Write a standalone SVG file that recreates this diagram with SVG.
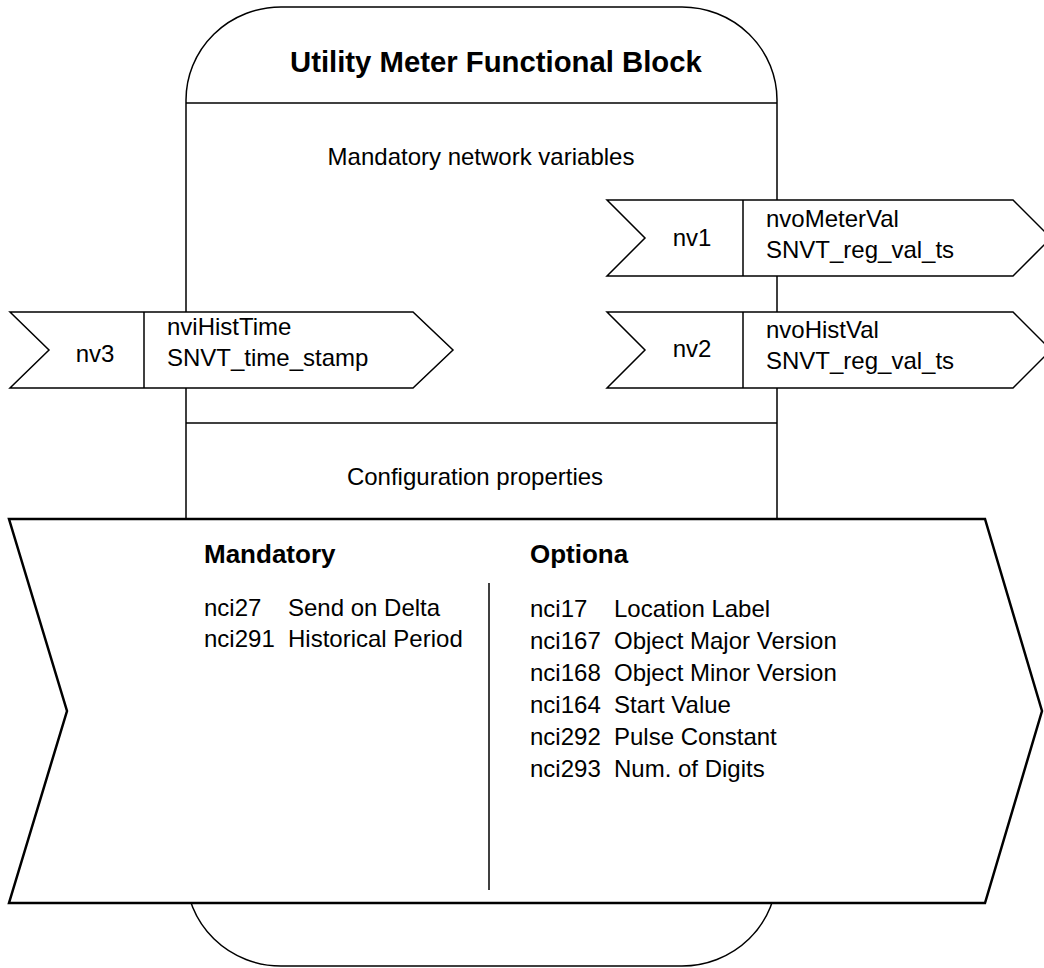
<svg xmlns="http://www.w3.org/2000/svg" width="1044" height="968" viewBox="0 0 1044 968">
<style>
.ln{fill:#fff;stroke:#000;stroke-width:1.5}
.big{fill:#fff;stroke:#000;stroke-width:2.5;stroke-linejoin:miter}
text{font-family:"Liberation Sans",Arial,sans-serif;fill:#000}
.t{font-size:24px}
.b{font-size:26px;font-weight:bold}
</style>
<rect width="1044" height="968" fill="#fff"/>
<g id="block">
<rect class="ln" x="186" y="7" width="591" height="959" rx="95" ry="93"/>
<line x1="186" y1="103" x2="777" y2="103" stroke="#000" stroke-width="1.5"/>
<line x1="186" y1="423" x2="777" y2="423" stroke="#000" stroke-width="1.5"/>
<text x="290" y="72" style="font-size:29.3px;font-weight:bold">Utility Meter Functional Block</text>
<text class="t" x="481" y="165" text-anchor="middle">Mandatory network variables</text>
<text class="t" x="475" y="485" text-anchor="middle">Configuration properties</text>
</g>
<g id="nv1">
<polygon class="ln" points="607,200 1013,200 1051,238 1013,276 607,276 645,238"/>
<line x1="743" y1="200" x2="743" y2="276" stroke="#000" stroke-width="1.5"/>
<text class="t" x="692" y="246" text-anchor="middle">nv1</text>
<text class="t" x="766" y="227">nvoMeterVal</text>
<text class="t" x="766" y="258">SNVT_reg_val_ts</text>
</g>
<g id="nv2">
<polygon class="ln" points="607,312 1013,312 1051,350 1013,388 607,388 645,350"/>
<line x1="743" y1="312" x2="743" y2="388" stroke="#000" stroke-width="1.5"/>
<text class="t" x="692" y="357" text-anchor="middle">nv2</text>
<text class="t" x="766" y="338">nvoHistVal</text>
<text class="t" x="766" y="369">SNVT_reg_val_ts</text>
</g>
<g id="nv3">
<polygon class="ln" points="10,312 413,312 453,350 413,388 10,388 49,350"/>
<line x1="144" y1="312" x2="144" y2="388" stroke="#000" stroke-width="1.5"/>
<text class="t" x="95" y="362" text-anchor="middle">nv3</text>
<text class="t" x="167" y="335">nviHistTime</text>
<text class="t" x="167" y="366">SNVT_time_stamp</text>
</g>
<g id="config">
<polygon class="big" points="9,519 985,519 1042,711 985,903 9,903 67,711"/>
<line x1="489" y1="583" x2="489" y2="890" stroke="#000" stroke-width="1.5"/>
<text class="b" x="204" y="563">Mandatory</text>
<text class="t" x="204" y="616">nci27</text>
<text class="t" x="288" y="616">Send on Delta</text>
<text class="t" x="204" y="647">nci291</text>
<text class="t" x="288" y="647">Historical Period</text>
<text class="b" x="530" y="563">Optiona</text>
<text class="t" x="530" y="617">nci17</text>
<text class="t" x="614" y="617">Location Label</text>
<text class="t" x="530" y="649">nci167</text>
<text class="t" x="614" y="649">Object Major Version</text>
<text class="t" x="530" y="681">nci168</text>
<text class="t" x="614" y="681">Object Minor Version</text>
<text class="t" x="530" y="713">nci164</text>
<text class="t" x="614" y="713">Start Value</text>
<text class="t" x="530" y="745">nci292</text>
<text class="t" x="614" y="745">Pulse Constant</text>
<text class="t" x="530" y="777">nci293</text>
<text class="t" x="614" y="777">Num. of Digits</text>
</g>
</svg>
